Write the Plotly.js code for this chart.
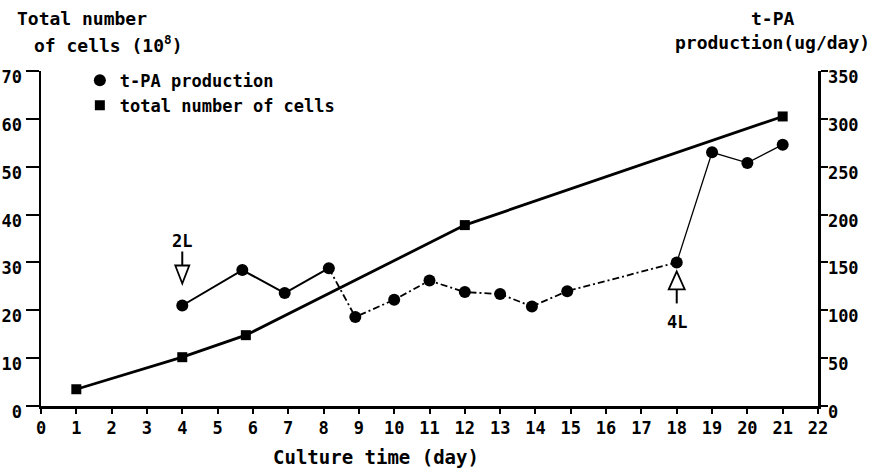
<!DOCTYPE html>
<html>
<head>
<meta charset="utf-8">
<script src="https://cdn.plot.ly/plotly-3.0.1.min.js"></script>
<style>html,body{margin:0;padding:0;background:#fff;}#chart{width:874px;height:472px;}</style>
</head>
<body>
<div id="chart"></div>
<script>
// ---- data ----
const cellDays = [1, 4, 5.8, 12, 21];
const cellCounts = [3.5, 10.2, 14.8, 37.8, 60.5];          // x10^8 cells (left axis)
const tpaDays = [4, 5.7, 6.9, 8.15, 8.9, 10, 11, 12, 13, 13.9, 14.9, 18, 19, 20, 21];
const tpaValues = [105, 142, 118, 144, 93, 111, 131, 119, 117, 104, 120, 150, 265, 254, 273]; // ug/day (right axis)
const xTicks = [0,1,2,3,4,5,6,7,8,9,10,11,12,13,14,15,16,17,18,19,20,21,22];
const leftTicks = [0,10,20,30,40,50,60,70];
const rightTicks = [0,50,100,150,200,250,300,350];
const seriesNames = ['t-PA production', 'total number of cells'];

const FONT = 'DejaVu Sans Mono, monospace';
const seg = (a, i, j) => a.slice(i, j + 1);

const traces = [
  {x: cellDays, y: cellCounts, mode: 'lines', line: {color: '#000', width: 2.8}, showlegend: false, hoverinfo: 'skip'},
  {x: seg(tpaDays,0,3), y: seg(tpaValues,0,3), yaxis: 'y2', mode: 'lines', line: {color: '#000', width: 2}, showlegend: false, hoverinfo: 'skip'},
  {x: seg(tpaDays,3,11), y: seg(tpaValues,3,11), yaxis: 'y2', mode: 'lines', line: {color: '#000', width: 1.8, dash: '7px,3px,2px,3px'}, showlegend: false, hoverinfo: 'skip'},
  {x: seg(tpaDays,11,14), y: seg(tpaValues,11,14), yaxis: 'y2', mode: 'lines', line: {color: '#000', width: 1.3}, showlegend: false, hoverinfo: 'skip'},
  {x: tpaDays, y: tpaValues, yaxis: 'y2', name: seriesNames[0], mode: 'markers', marker: {symbol: 'circle', size: 12, color: '#000'}},
  {x: cellDays, y: cellCounts, name: seriesNames[1], mode: 'markers', marker: {symbol: 'square', size: 10, color: '#000'}}
];

const i2 = 0, i4 = 11;
const layout = {
  width: 874, height: 472,
  margin: {l: 41, r: 56, t: 71, b: 66},
  paper_bgcolor: '#fff', plot_bgcolor: '#fff',
  font: {family: FONT, color: '#000', size: 17, weight: 'bold'},
  showlegend: true,
  legend: {x: 0.05, xanchor: 'left', y: 1.025, yanchor: 'top', bgcolor: 'rgba(0,0,0,0)',
           font: {family: FONT, size: 17, weight: 'bold'}, itemwidth: 30, tracegroupgap: 0},
  xaxis: {range: [0, 22], tickvals: xTicks, showgrid: false, zeroline: false,
          showline: true, linecolor: '#000', linewidth: 2.5, ticks: 'outside', ticklen: 5, tickwidth: 2, tickcolor: '#000',
          tickfont: {family: FONT, size: 17, weight: 'bold'}, fixedrange: true},
  yaxis: {range: [0, 70], tickvals: leftTicks, showgrid: false, zeroline: false,
          showline: true, linecolor: '#000', linewidth: 2.5, ticks: 'outside', ticklen: 13, tickwidth: 2, tickcolor: '#000',
          ticklabelshift: 6, ticklabelstandoff: 0,
          tickfont: {family: FONT, size: 17, weight: 'bold'}, fixedrange: true},
  yaxis2: {range: [0, 350], tickvals: rightTicks, overlaying: 'y', side: 'right', showgrid: false, zeroline: false,
           showline: true, linecolor: '#000', linewidth: 2.5, ticks: 'outside', ticklen: 7, tickwidth: 2, tickcolor: '#000',
           ticklabelshift: 6, ticklabelstandoff: -3,
           tickfont: {family: FONT, size: 17, weight: 'bold'}, fixedrange: true},
  annotations: [
    {xref: 'paper', yref: 'paper', x: -0.0335, y: (406-19)/335, xanchor: 'left', yanchor: 'middle', showarrow: false,
     text: 'Total number', font: {family: FONT, size: 18, weight: 'bold'}},
    {xref: 'paper', yref: 'paper', x: -0.012, y: (406-44)/335, xanchor: 'left', yanchor: 'middle', showarrow: false,
     text: 'of cells (10<sup>8</sup>)', font: {family: FONT, size: 18, weight: 'bold'}},
    {xref: 'paper', yref: 'paper', x: (773-41)/777, y: (406-18)/335, xanchor: 'center', yanchor: 'middle', showarrow: false,
     text: 't-PA', font: {family: FONT, size: 18, weight: 'bold'}},
    {xref: 'paper', yref: 'paper', x: (872-41)/777, y: (406-42)/335, xanchor: 'right', yanchor: 'middle', showarrow: false,
     text: 'production(ug/day)', font: {family: FONT, size: 18, weight: 'bold'}},
    {xref: 'paper', yref: 'paper', x: (376-41)/777, y: (406-457)/335, xanchor: 'center', yanchor: 'middle', showarrow: false,
     text: 'Culture time (day)', font: {family: FONT, size: 19, weight: 'bold'}},
    {xref: 'x', yref: 'y2', x: tpaDays[i2], y: tpaValues[i2], yshift: 65, showarrow: false, text: '2L',
     font: {family: FONT, size: 17, weight: 'bold'}},
    {xref: 'x', yref: 'y2', x: tpaDays[i4], y: tpaValues[i4], yshift: -60, showarrow: false, text: '4L',
     font: {family: FONT, size: 17, weight: 'bold'}}
  ],
  shapes: [
    {type: 'path', xref: 'x', yref: 'y2', xsizemode: 'pixel', ysizemode: 'pixel', xanchor: tpaDays[i2], yanchor: tpaValues[i2],
     path: 'M0,22 L-7,40 L7,40 Z', fillcolor: '#fff', line: {color: '#000', width: 1.8}},
    {type: 'path', xref: 'x', yref: 'y2', xsizemode: 'pixel', ysizemode: 'pixel', xanchor: tpaDays[i2], yanchor: tpaValues[i2],
     path: 'M0,40 L0,54', line: {color: '#000', width: 2}},
    {type: 'path', xref: 'x', yref: 'y2', xsizemode: 'pixel', ysizemode: 'pixel', xanchor: tpaDays[i4], yanchor: tpaValues[i4],
     path: 'M0,-9 L-8,-27 L8,-27 Z', fillcolor: '#fff', line: {color: '#000', width: 1.8}},
    {type: 'path', xref: 'x', yref: 'y2', xsizemode: 'pixel', ysizemode: 'pixel', xanchor: tpaDays[i4], yanchor: tpaValues[i4],
     path: 'M0,-27 L0,-41', line: {color: '#000', width: 2}}
  ]
};

Plotly.newPlot('chart', traces, layout, {staticPlot: true, displayModeBar: false});
</script>
</body>
</html>
